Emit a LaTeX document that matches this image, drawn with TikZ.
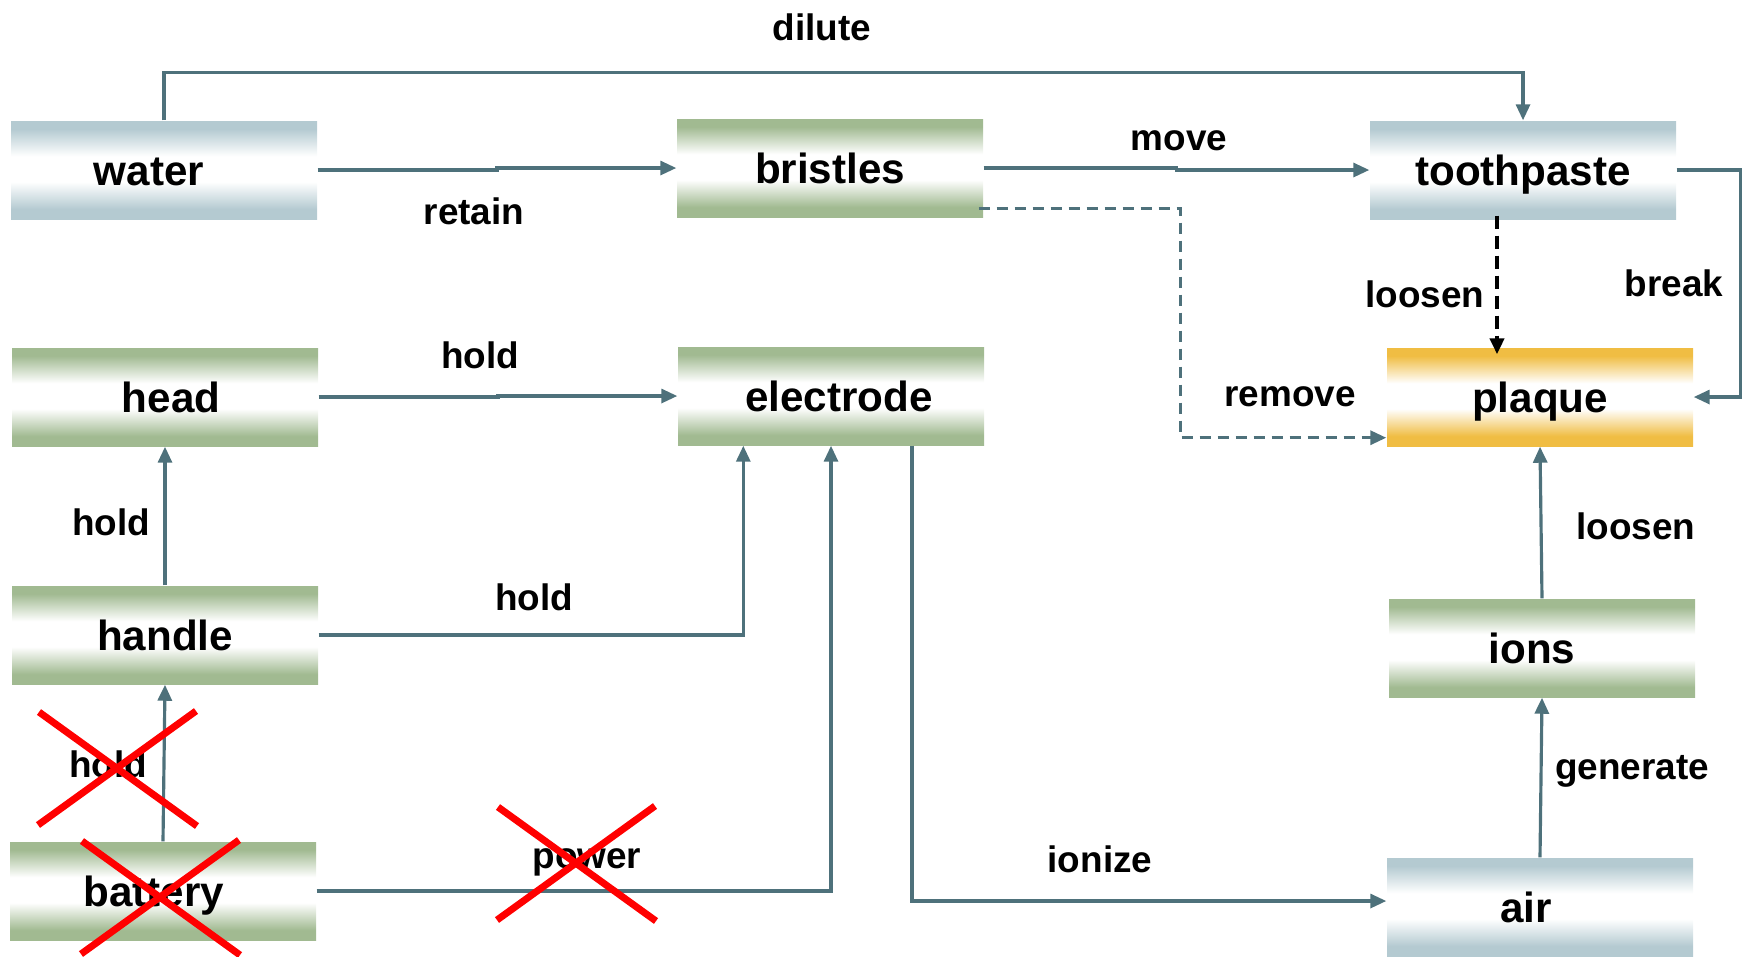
\documentclass[tikz,border=0pt]{standalone}
\usepackage{fontspec}
\setmainfont{Liberation Sans}
\usepackage{xcolor}
\usetikzlibrary{arrows.meta, positioning, calc}

\definecolor{boxgreen}{HTML}{A1BA91}
\definecolor{boxblue}{HTML}{B4CAD1}
\definecolor{boxgold}{HTML}{F0BD43}
\definecolor{linkgray}{HTML}{4E717B}

% banded fills of the boxes
\pgfdeclareverticalshading{greenband}{100bp}{color(0bp)=(boxgreen); color(30bp)=(boxgreen); color(44bp)=(white); color(57bp)=(white); color(71bp)=(boxgreen); color(100bp)=(boxgreen)}
\pgfdeclareverticalshading{blueband}{100bp}{color(0bp)=(boxblue); color(30bp)=(boxblue); color(44bp)=(white); color(57bp)=(white); color(71bp)=(boxblue); color(100bp)=(boxblue)}
\pgfdeclareverticalshading{goldband}{100bp}{color(0bp)=(boxgold); color(30bp)=(boxgold); color(44bp)=(white); color(57bp)=(white); color(71bp)=(boxgold); color(100bp)=(boxgold)}

\begin{document}
\begin{tikzpicture}[x=0.1mm, y=-0.1mm,
    part/.style={minimum width=30.6mm, minimum height=9.8mm, inner sep=0pt, shade, text height=0.9em, text depth=0em, font=\bfseries\fontsize{12}{14}\selectfont},
    greenpart/.style={part, shading=greenband},
    bluepart/.style={part, shading=blueband},
    goldpart/.style={part, shading=goldband},
    nudge/.style={execute at begin node={\hspace*{#1}}},
    verb/.style={text height=0.85em, text depth=0.05em, font=\bfseries\fontsize{10.5}{12}\selectfont},
    link/.style={draw=linkgray, line width=0.9pt, -{Triangle[length=1.6mm, width=1.4mm]}},
    dashlink/.style={link, dash pattern=on 1.1mm off 0.7mm},
    pushlink/.style={draw=black, line width=1.3pt, dash pattern=on 1.3mm off 0.7mm, -{Triangle[length=1.6mm, width=1.4mm]}},
    jog/.style={to path={-| ($(\tikztostart)!0.5!(\tikztotarget)$) |- (\tikztotarget)}},
    strike/.style={draw=red, line width=0.7mm}
]
    \useasboundingbox (0,0) rectangle (1748,956);

    % Boxes
    \node[bluepart, nudge=-3mm]    (water)      at (164,170)  {water};
    \node[greenpart]               (bristles)   at (830,168)  {bristles};
    \node[bluepart]                (toothpaste) at (1523,170) {toothpaste};
    \node[greenpart, nudge=1.2mm]  (head)       at (165,397)  {head};
    \node[greenpart, nudge=1.6mm]  (electrode)  at (831,396)  {electrode};
    \node[goldpart]                (plaque)     at (1540,397) {plaque};
    \node[greenpart]               (handle)     at (165,635)  {handle};
    \node[greenpart, nudge=-2mm]   (ions)       at (1542,648) {ions};
    \node[greenpart, nudge=-1.8mm] (battery)    at (163,891)  {battery};
    \node[bluepart, nudge=-2.8mm]  (air)        at (1540,907) {air};

    % Top row
    \draw[link] (water.north) -- ++(0,-48) -| (toothpaste.north);
    \draw[link] (water.east) to[jog] (bristles.west);
    \draw[link] (bristles.east) to[jog] (toothpaste.west);
    \draw[dashlink] ($(bristles.south east)+(-5,-9)$) -- ++(202,0) |- ($(plaque.south west)+(0,-9)$);
    \draw[pushlink] ($(toothpaste.south)+(-26,-4)$) -- ($(plaque.north)+(-43,7)$);
    \draw[link] (toothpaste.east) -- ++(64,0) |- (plaque.east);

    % Left column
    \draw[link] (head.east) to[jog] (electrode.west);
    \draw[link] (handle.north) -- (head.south);
    \draw[link] (handle.east) -| ($(electrode.south west)+(66,0)$);
    \draw[link] (battery.north) -- (handle.south);
    \draw[link] (battery.east) -| (electrode.south);

    % Right column
    \draw[link] ($(electrode.south)+(81,0)$) |- ($(air.west)+(0,-6)$);
    \draw[link] (air.north) -- (ions.south);
    \draw[link] (ions.north) -- (plaque.south);

    % Labels
    \node[verb] (lbdilute)   at (822,26)   {dilute};
    \node[verb] (lbretain)   at (474,210)  {retain};
    \node[verb] (lbmove)     at (1179,136) {move};
    \node[verb] (lbremove)   at (1290,392) {remove};
    \node[verb] (lbloosena)  at (1425,293) {loosen};
    \node[verb] (lbbreak)    at (1674,282) {break};
    \node[verb] (lbholda)    at (480,354)  {hold};
    \node[verb] (lbholdb)    at (111,521)  {hold};
    \node[verb] (lbholdc)    at (534,596)  {hold};
    \node[verb] (lbholdd)    at (108,763)  {hold};
    \node[verb] (lbpower)    at (587,854)  {power};
    \node[verb] (lbionize)   at (1100,858) {ionize};
    \node[verb] (lbloosenb)  at (1636,525) {loosen};
    \node[verb] (lbgenerate) at (1632,765) {generate};

    % Crossed-out parts
    \foreach \cx/\cy in {118/769, 161/898, 577/864} {
        \draw[strike] ({\cx-79},{\cy-57}) -- ({\cx+79},{\cy+57});
        \draw[strike] ({\cx+78},{\cy-58}) -- ({\cx-80},{\cy+56});
    }
\end{tikzpicture}
\end{document}
